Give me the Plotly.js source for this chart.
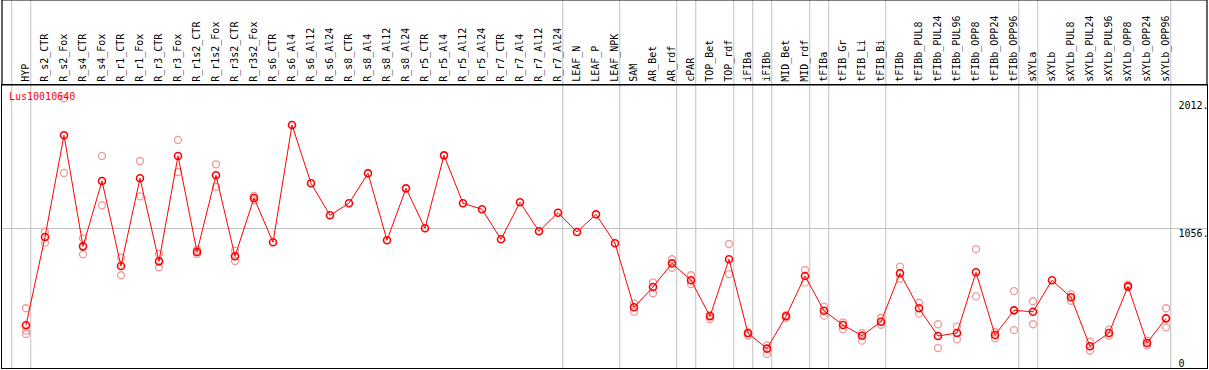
<!DOCTYPE html>
<html><head><meta charset="utf-8">
<script src="https://cdn.plot.ly/plotly-3.0.1.min.js"></script>
<style>html,body{margin:0;padding:0;background:#fff;overflow:hidden}#chart{width:1209px;height:370px}</style>
</head><body><div id="chart"></div>
<script>
const categories = ["HYP","R_s2_CTR","R_s2_Fox","R_s4_CTR","R_s4_Fox","R_r1_CTR","R_r1_Fox","R_r3_CTR","R_r3_Fox","R_r1s2_CTR","R_r1s2_Fox","R_r3s2_CTR","R_r3s2_Fox","R_s6_CTR","R_s6_Al4","R_s6_Al12","R_s6_Al24","R_s8_CTR","R_s8_Al4","R_s8_Al12","R_s8_Al24","R_r5_CTR","R_r5_Al4","R_r5_Al12","R_r5_Al24","R_r7_CTR","R_r7_Al4","R_r7_Al12","R_r7_Al24","LEAF_N","LEAF_P","LEAF_NPK","SAM","AR_Bet","AR_rdf","cPAR","TOP_Bet","TOP_rdf","iFIBa","iFIBb","MID_Bet","MID_rdf","tFIBa","tFIB_Gr","tFIB_Li","tFIB_Bi","tFIBb","tFIBb_PUL8","tFIBb_PUL24","tFIBb_PUL96","tFIBb_OPP8","tFIBb_OPP24","tFIBb_OPP96","sXYLa","sXYLb","sXYLb_PUL8","sXYLb_PUL24","sXYLb_PUL96","sXYLb_OPP8","sXYLb_OPP24","sXYLb_OPP96"];
const meanValues = [266,983,1809,907,1438,747,1460,785,1641,862,1484,826,1300,940,1893,1419,1159,1257,1500,956,1378,1054,1646,1257,1208,964,1265,1029,1180,1023,1167,932,412,577,769,631,339,802,201,76,339,666,384,268,181,295,688,404,179,203,696,187,387,376,631,493,95,203,582,122,322];
const replicateA = [404,1026,2109,972,1641,815,1600,845,1771,880,1573,872,1316,null,null,null,null,null,null,null,null,null,null,null,null,null,null,null,null,null,null,null,444,615,802,672,349,926,209,103,349,715,417,290,201,327,742,449,274,257,885,209,544,461,null,517,132,230,595,141,404];
const replicateB = [222,937,1503,842,1240,672,1313,737,1511,845,1391,788,1283,null,null,null,null,null,null,null,null,null,null,null,null,null,null,null,null,null,null,null,376,526,733,601,317,682,181,32,327,612,344,233,141,270,644,360,81,152,501,160,227,274,null,465,59,181,574,103,249];
const replicateC = [195,null,null,null,null,null,null,null,null,null,null,null,null,null,null,null,null,null,null,null,null,null,null,null,null,null,null,null,null,null,null,null,null,null,null,null,null,null,null,null,null,null,null,null,null,null,null,null,null,null,null,null,null,null,null,null,null,null,null,null,null];
const groupLastIndex = [-1,0,28,31,34,35,37,38,39,41,42,45,52,53,60];
const gridValues = [1056];
const yTickValues = [0,1056,2090];
const yTickLabels = ["0","1056.","2012."];
const geneName = "Lus10010640";

const W = 1209, H = 370, M = {l:2, r:2, t:85, b:2};
const plotH = H - M.t - M.b;
const mono = "DejaVu Sans Mono, monospace";

const repX = [], repY = [];
[replicateA, replicateB, replicateC].forEach(arr => arr.forEach((v, i) => {
  if (v !== null) { repX.push(categories[i]); repY.push(v); }
}));

const traces = [
  {x: repX, y: repY, type: "scatter", mode: "markers", hoverinfo: "skip",
   marker: {symbol: "circle-open", size: 7, color: "#ee9a9a", line: {width: 1.3, color: "#ee9a9a"}}},
  {x: categories, y: meanValues, type: "scatter", mode: "lines+markers", yaxis: "y2",
   line: {color: "#ff0000", width: 1},
   marker: {symbol: "circle-open", size: 7, color: "#ff0000", line: {width: 1.6, color: "#ff0000"}}}
];

const yRange = [-81.2, 2217.5];
const headerTop = 1 + M.t / plotH;
const shapes = groupLastIndex.map(g => ({
  type: "line", xref: "x", yref: "paper", x0: g + 0.25, x1: g + 0.25, y0: 0, y1: headerTop,
  line: {color: "#c0c0c0", width: 1}, layer: "below"
}));
shapes.push({type: "rect", xref: "paper", yref: "paper", x0: 0, x1: 1, y0: 1, y1: headerTop,
  line: {color: "#000", width: 1.2}, layer: "above"});

const layout = {
  width: W, height: H, margin: Object.assign({pad: 0}, M),
  paper_bgcolor: "#fff", plot_bgcolor: "#fff", showlegend: false,
  title: {text: geneName, font: {family: mono, size: 10, color: "#ff0000"},
          xref: "paper", yref: "paper", x: 0.0058, xanchor: "left", y: 0.958, yanchor: "middle"},
  xaxis: {type: "category", categoryorder: "array", categoryarray: categories,
          side: "top", range: [-1.263, 62.158], tickangle: -90,
          tickfont: {family: mono, size: 10, color: "#000"}, ticks: "", showgrid: false,
          showline: true, linecolor: "#000", linewidth: 1.2, mirror: true, zeroline: false},
  yaxis: {range: yRange, tickvals: gridValues, showticklabels: false, showgrid: true,
          gridcolor: "#c0c0c0", gridwidth: 1, zeroline: false, showline: true,
          linecolor: "#000", linewidth: 1.2, mirror: true, ticks: ""},
  yaxis2: {range: yRange, overlaying: "y", anchor: "free", position: 0.9755, side: "right",
           tickvals: yTickValues, ticktext: yTickLabels, ticklabelshift: 5,
           tickfont: {family: mono, size: 10, color: "#000"}, showgrid: false,
           showline: false, zeroline: false, ticks: ""},
  shapes: shapes
};
Plotly.newPlot("chart", traces, layout, {staticPlot: true, displayModeBar: false});
</script></body></html>
